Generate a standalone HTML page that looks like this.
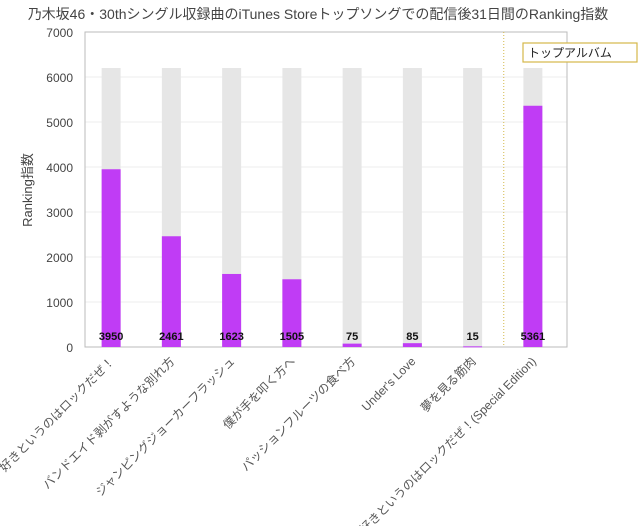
<!DOCTYPE html>
<html><head><meta charset="utf-8"><style>
body{margin:0;background:#fff;font-family:"Liberation Sans","Noto Sans CJK JP",sans-serif;}
</style></head><body>
<svg width="640" height="526" viewBox="0 0 640 526" xmlns="http://www.w3.org/2000/svg" font-family="Liberation Sans, Noto Sans CJK JP, sans-serif">
<text x="318" y="19" text-anchor="middle" font-size="14" fill="#444">乃木坂46・30thシングル収録曲のiTunes Storeトップソングでの配信後31日間のRanking指数</text>
<text transform="translate(32,190) rotate(-90)" text-anchor="middle" font-size="13" fill="#444">Ranking指数</text>
<g id="grid"></g><g id="bars"></g><g id="labels"></g>
</svg>
<script>
const categories=["好きというのはロックだぜ！","バンドエイド剥がすような別れ方","ジャンピングジョーカーフラッシュ","僕が手を叩く方へ","パッションフルーツの食べ方","Under's Love","夢を見る筋肉","好きというのはロックだぜ！(Special Edition)"];
const values=[3950,2461,1623,1505,75,85,15,5361];
const bgValue=6200;
const yTicks=[0,1000,2000,3000,4000,5000,6000,7000];
const NS="http://www.w3.org/2000/svg";
const L=85,R=567,T=32,B=347,yMax=7000;
const y=v=>B-(v/yMax)*(B-T);
const step=(R-L)/categories.length;
const xc=i=>L+step*(i+0.5)-4;
function mk(tag,attrs,parent,txt){const e=document.createElementNS(NS,tag);for(const k in attrs)e.setAttribute(k,attrs[k]);if(txt!==undefined)e.textContent=txt;parent.appendChild(e);return e;}
const svg=document.querySelector('svg');
const grid=document.getElementById('grid'),bars=document.getElementById('bars'),labels=document.getElementById('labels');
yTicks.forEach(t=>{
  const g=mk('line',{x1:L,x2:R,y1:y(t),y2:y(t),stroke:'#eee','stroke-width':1},grid);
  
  
  const tx=mk('text',{x:L-12,y:y(t)+5,'text-anchor':'end','font-size':12,fill:'#444'},grid,String(t));
  
  
});
const frame=mk('rect',{x:L,y:T,width:R-L,height:B-T,fill:'none',stroke:'#bbb','stroke-width':1},grid);


const sep=mk('line',{x1:L+step*7-3,x2:L+step*7-3,y1:T,y2:B,stroke:'#d4b84a','stroke-width':1,'stroke-dasharray':'1,2'},grid);


const box=mk('rect',{x:523,y:43,width:114,height:19,fill:'#fff',stroke:'#d4b84a','stroke-width':1.2},grid);


const bt=mk('text',{x:570,y:57,'text-anchor':'middle','font-size':12,fill:'#222'},grid,'トップアルバム');


const bw=19;
categories.forEach((c,i)=>{
  const bg=mk('rect',{x:xc(i)-bw/2,y:y(bgValue),width:bw,height:B-y(bgValue),fill:'#e6e6e6'},bars);
  
  
  const b=mk('rect',{x:xc(i)-bw/2,y:y(values[i]),width:bw,height:Math.max(B-y(values[i]),1),fill:'#c03cf5'},bars);
  
  
  const v=mk('text',{x:xc(i),y:340,'text-anchor':'middle','font-size':11,'font-weight':'bold',fill:'#111'},labels,String(values[i]));
  
  
  const l=mk('text',{transform:`translate(${xc(i)+4},362) rotate(-45)`,'text-anchor':'end','font-size':12,fill:'#555'},labels,c);
  
  
});
</script>
</body></html>
